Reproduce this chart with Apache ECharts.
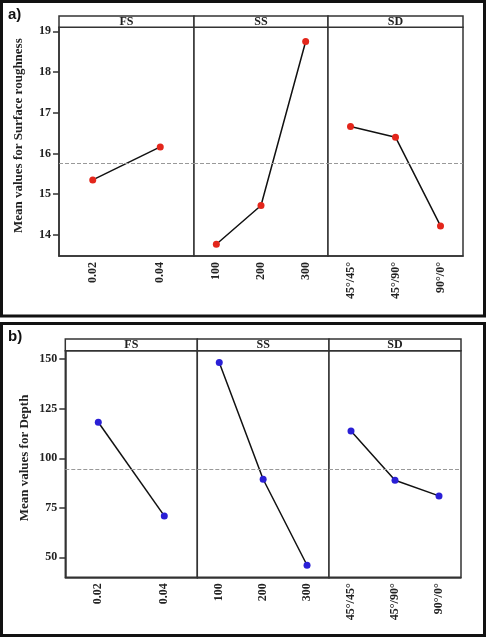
<!DOCTYPE html>
<html lang="en">
<head>
    <meta charset="UTF-8"/>
    <title>Main effects plot</title>
    <script src="https://cdn.jsdelivr.net/npm/echarts@6/dist/echarts.min.js"></script>
    <style>
        html, body { margin: 0; padding: 0; background: #fff; }
        #main { width: 492px; height: 640px; }
    </style>
</head>
<body>
<div id="main"></div>
<script type="text/javascript">
    // factor names and levels
    var factors = ['FS', 'SS', 'SD'];
    var fsLevels = ['0.02', '0.04'];
    var ssLevels = ['100', '200', '300'];
    var sdLevels = ['45°/45°', '45°/90°', '90°/0°'];

    // a) mean surface roughness per level
    var roughFS = [15.35, 16.16];
    var roughSS = [13.77, 14.72, 18.75];
    var roughSD = [16.66, 16.40, 14.22];
    var roughTicks = [14, 15, 16, 17, 18, 19];

    // b) mean depth per level
    var depthFS = [118.2, 70.9];
    var depthSS = [148.3, 89.4, 46.0];
    var depthSD = [113.8, 88.9, 81.0];
    var depthTicks = [50, 75, 100, 125, 150];

    function mean(arr) {
        var s = 0;
        for (var i = 0; i < arr.length; i++) s += arr[i];
        return s / arr.length;
    }

    var serif = '"Liberation Serif", "DejaVu Serif", serif';
    var levels = [fsLevels, ssLevels, sdLevels];

    // layout of the two panels (pixels)
    var panels = [
        {
            name: 'Mean values for Surface roughness', tag: 'a)',
            data: [roughFS, roughSS, roughSD], ticks: roughTicks,
            min: 13.48, max: 19.1, color: '#e3261b',
            stripTop: 16, top: 27.3, bottom: 256,
            edges: [59, 194, 328, 463], box: [1.5, 1.5, 483, 314.5]
        },
        {
            name: 'Mean values for Depth', tag: 'b)',
            data: [depthFS, depthSS, depthSD], ticks: depthTicks,
            min: 39.9, max: 154.3, color: '#2a1fd6',
            stripTop: 339, top: 350.7, bottom: 577.3,
            edges: [65.3, 197.3, 329, 461], box: [1.5, 323.5, 483, 312]
        }
    ];

    var grid = [], xAxis = [], yAxis = [], series = [], graphic = [];

    panels.forEach(function (p, pi) {
        var grand = mean(p.data[0]);
        graphic.push({
            type: 'rect', silent: true,
            shape: { x: p.box[0], y: p.box[1], width: p.box[2], height: p.box[3] },
            style: { fill: 'none', stroke: '#111', lineWidth: 3 }
        });
        graphic.push({
            type: 'text', silent: true, left: 8, top: p.box[1] + 6,
            style: { text: p.tag, font: 'bold 15px "Liberation Sans", Arial, sans-serif', fill: '#111' }
        });

        for (var f = 0; f < 3; f++) {
            var idx = pi * 3 + f;
            var left = p.edges[f], w = p.edges[f + 1] - p.edges[f];
            grid.push({
                left: left, top: p.top, width: w, height: p.bottom - p.top,
                show: true, borderColor: '#333', borderWidth: 1.5, backgroundColor: '#fff'
            });
            // facet strip
            graphic.push({
                type: 'rect', silent: true,
                shape: { x: left, y: p.stripTop, width: w, height: p.top - p.stripTop },
                style: { fill: '#fff', stroke: '#333', lineWidth: 1.5 }
            });
            graphic.push({
                type: 'text', silent: true,
                x: left + w / 2, y: (p.stripTop + p.top) / 2 + 0.5,
                style: {
                    text: factors[f], font: 'bold 12px ' + serif, fill: '#222',
                    align: 'center', verticalAlign: 'middle'
                }
            });

            xAxis.push({
                type: 'category', gridIndex: idx, data: levels[f], boundaryGap: true,
                axisLine: { lineStyle: { color: '#333', width: 1.5 } },
                axisTick: { alignWithLabel: true, length: 5, lineStyle: { color: '#333', width: 1.5 } },
                axisLabel: {
                    rotate: 90, margin: 6, color: '#222',
                    fontFamily: serif, fontWeight: 'bold', fontSize: 12
                },
                splitLine: { show: false }
            });
            yAxis.push({
                type: 'value', gridIndex: idx, min: p.min, max: p.max,
                show: f === 0,
                name: f === 0 ? p.name : '',
                nameLocation: 'middle', nameGap: 34,
                nameTextStyle: {
                    fontFamily: serif, fontWeight: 'bold', fontSize: 13, color: '#222',
                    padding: [0, 0, 0, 12]
                },
                axisLine: { show: true, lineStyle: { color: '#333', width: 1.5 } },
                axisTick: { show: true, length: 6, customValues: p.ticks, lineStyle: { color: '#333', width: 1.5 } },
                axisLabel: {
                    customValues: p.ticks, margin: 8, color: '#222',
                    fontFamily: serif, fontWeight: 'bold', fontSize: 12
                },
                splitLine: { show: false }
            });
            series.push({
                type: 'line', xAxisIndex: idx, yAxisIndex: idx,
                data: p.data[f],
                symbol: 'circle', symbolSize: 7,
                itemStyle: { color: p.color },
                lineStyle: { color: '#111', width: 1.5 },
                markLine: {
                    silent: true, symbol: 'none', label: { show: false },
                    lineStyle: { type: 'dashed', color: '#999', width: 1 },
                    data: [{ yAxis: grand }]
                }
            });
        }
    });

    var myChart = echarts.init(document.getElementById('main'));
    myChart.setOption({
        animation: false,
        backgroundColor: '#fff',
        grid: grid,
        xAxis: xAxis,
        yAxis: yAxis,
        series: series,
        graphic: graphic
    });
</script>
</body>
</html>
